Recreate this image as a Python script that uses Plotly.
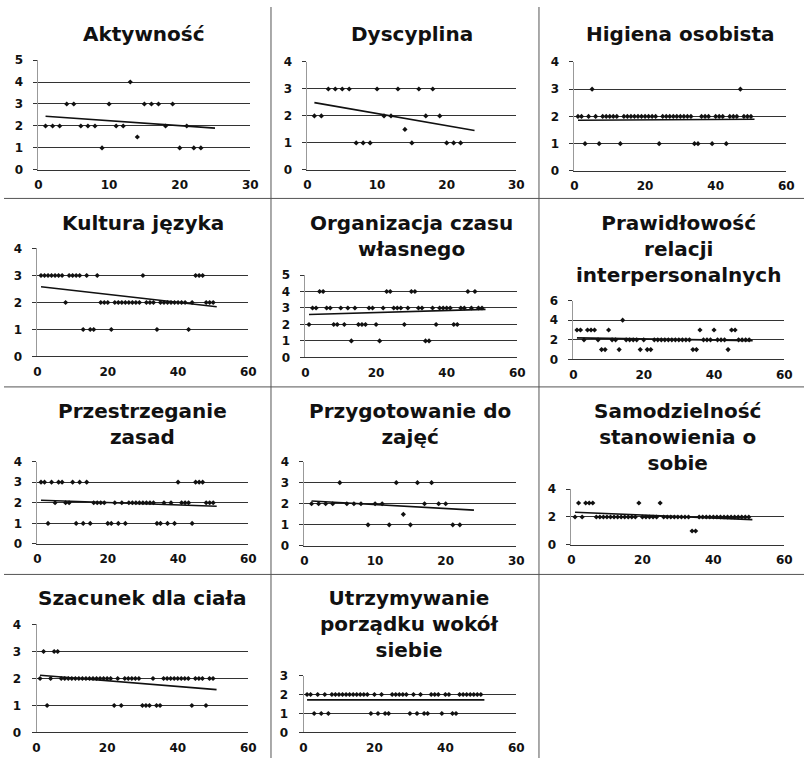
import numpy as np
import plotly.graph_objects as go

# ---- data: one score per pupil (x = pupil number, y = score) ----
titles = [
    "Aktywność",
    "Dyscyplina",
    "Higiena osobista",
    "Kultura języka",
    "Organizacja czasu<br>własnego",
    "Prawidłowość<br>relacji<br>interpersonalnych",
    "Przestrzeganie<br>zasad",
    "Przygotowanie do<br>zajęć",
    "Samodzielność<br>stanowienia o<br>sobie",
    "Szacunek dla ciała",
    "Utrzymywanie<br>porządku wokół<br>siebie",
]

x_short23 = [1, 2, 3, 4, 5, 6, 7, 8, 9, 10, 11, 12, 13, 14, 15, 16, 17, 18, 19, 20, 21, 22, 23]
x_short22 = [1, 2, 3, 4, 5, 6, 7, 8, 9, 10, 11, 12, 13, 14, 15, 16, 17, 18, 19, 20, 21, 22]
x_long50 = [1, 2, 3, 4, 5, 6, 7, 8, 9, 10,
            11, 12, 13, 14, 15, 16, 17, 18, 19, 20,
            21, 22, 23, 24, 25, 26, 27, 28, 29, 30,
            31, 32, 33, 34, 35, 36, 37, 38, 39, 40,
            41, 42, 43, 44, 45, 46, 47, 48, 49, 50]

aktywnosc = [2, 2, 2, 3, 3, 2, 2, 2, 1, 3, 2, 2, 4, 1.5, 3, 3, 3, 2, 3, 1, 2, 1, 1]
dyscyplina = [2, 2, 3, 3, 3, 3, 1, 1, 1, 3, 2, 2, 3, 1.5, 1, 3, 2, 3, 2, 1, 1, 1]
higiena = [2, 2, 1, 2, 3, 2, 1, 2, 2, 2,
           2, 2, 1, 2, 2, 2, 2, 2, 2, 2,
           2, 2, 2, 1, 2, 2, 2, 2, 2, 2,
           2, 2, 2, 1, 1, 2, 2, 2, 1, 2,
           2, 2, 1, 2, 2, 2, 3, 2, 2, 2]
kultura = [3, 3, 3, 3, 3, 3, 3, 2, 3, 3,
           3, 3, 1, 3, 1, 1, 3, 2, 2, 2,
           1, 2, 2, 2, 2, 2, 2, 2, 2, 3,
           2, 2, 2, 1, 2, 2, 2, 2, 2, 2,
           2, 2, 1, 2, 3, 3, 3, 2, 2, 2]
organizacja = [2, 3, 3, 4, 4, 3, 3, 2, 2, 3,
               2, 3, 1, 3, 2, 2, 2, 3, 3, 2,
               1, 3, 4, 4, 3, 3, 3, 2, 3, 4,
               4, 3, 3, 1, 1, 3, 2, 3, 3, 3,
               3, 2, 2, 3, 3, 4, 3, 4, 3, 3]
relacje = [3, 3, 2, 3, 3, 3, 2, 1, 1, 3,
           2, 2, 1, 4, 2, 2, 2, 2, 1, 2,
           1, 1, 2, 2, 2, 2, 2, 2, 2, 2,
           2, 2, 2, 1, 1, 3, 2, 2, 2, 3,
           2, 2, 2, 1, 3, 3, 2, 2, 2, 2]
zasady = [3, 3, 1, 3, 2, 3, 3, 2, 2, 3,
          1, 3, 1, 3, 1, 2, 2, 2, 2, 1,
          1, 2, 1, 2, 1, 2, 2, 2, 2, 2,
          2, 2, 2, 1, 1, 2, 1, 2, 1, 3,
          2, 2, 2, 1, 3, 3, 3, 2, 2, 2]
przygotowanie = [2, 2, 2, 2, 3, 2, 2, 2, 1, 2, 2, 1, 3, 1.5, 1, 3, 2, 3, 2, 2, 1, 1]
samodzielnosc = [2, 3, 2, 3, 3, 3, 2, 2, 2, 2,
                 2, 2, 2, 2, 2, 2, 2, 2, 3, 2,
                 2, 2, 2, 2, 3, 2, 2, 2, 2, 2,
                 2, 2, 2, 1, 1, 2, 2, 2, 2, 2,
                 2, 2, 2, 2, 2, 2, 2, 2, 2, 2]
szacunek = [2, 3, 1, 2, 3, 3, 2, 2, 2, 2,
            2, 2, 2, 2, 2, 2, 2, 2, 2, 2,
            2, 1, 2, 1, 2, 2, 2, 2, 2, 1,
            1, 1, 2, 1, 1, 2, 2, 2, 2, 2,
            2, 2, 2, 1, 2, 2, 2, 1, 2, 2]
porzadek = [2, 2, 1, 2, 1, 2, 1, 2, 2, 2,
            2, 2, 2, 2, 2, 2, 2, 2, 1, 2,
            1, 2, 1, 1, 2, 2, 2, 2, 2, 1,
            2, 1, 2, 1, 1, 2, 2, 2, 1, 2,
            2, 1, 1, 2, 2, 2, 2, 2, 2, 2]

series_x = [x_short23, x_short22, x_long50, x_long50, x_long50, x_long50,
            x_long50, x_short22, x_long50, x_long50, x_long50]
series_y = [aktywnosc, dyscyplina, higiena, kultura, organizacja, relacje,
            zasady, przygotowanie, samodzielnosc, szacunek, porzadek]

# axis scales
x_max = [30, 30, 60, 60, 60, 60, 60, 30, 60, 60, 60]
x_step = [10, 10, 20, 20, 20, 20, 20, 10, 20, 20, 20]
y_max = [5, 4, 4, 4, 5, 6, 4, 4, 4, 4, 3]
y_step = [1, 1, 1, 1, 1, 2, 1, 1, 2, 1, 1]
# x-extent of the linear trend line
trend_to = [25, 24, 51, 51, 51, 51, 51, 24, 51, 51, 51]

# ---- layout geometry (pixels) ----
W, H = 812, 765
boxes = [  # left, right, top, bottom of each plot area
    (35, 250, 54, 166), (308, 520, 56, 166), (579, 794, 56, 167),
    (34, 248, 246, 356), (306, 521, 273, 357), (578, 792, 299, 359),
    (34, 248, 463, 547), (305, 520, 463, 549), (576, 792, 491, 548),
    (33, 248, 629, 739), (304, 520, 681, 739),
]
row_title_top = [13, 13, 13, 206, 206, 206, 397, 397, 397, 588, 588]

FONT = "DejaVu Sans"

fig = go.Figure()
layout = dict(
    width=W, height=H,
    margin=dict(l=0, r=0, t=0, b=0),
    paper_bgcolor="white", plot_bgcolor="white",
    showlegend=False,
    annotations=[], shapes=[],
)

for i in range(len(titles)):
    n = i + 1
    xa = "x" if n == 1 else f"x{n}"
    ya = "y" if n == 1 else f"y{n}"
    xs = np.array(series_x[i], dtype=float)
    ys = np.array(series_y[i], dtype=float)

    fig.add_trace(go.Scatter(
        x=xs, y=ys, mode="markers", xaxis=xa, yaxis=ya,
        marker=dict(symbol="diamond", size=4, color="#111"),
        cliponaxis=False,
    ))

    slope, intercept = np.polyfit(xs, ys, 1)
    tx = np.array([xs.min(), trend_to[i]])
    fig.add_trace(go.Scatter(
        x=tx, y=slope * tx + intercept, mode="lines", xaxis=xa, yaxis=ya,
        line=dict(color="#111", width=1.6),
    ))

    l, r, t, b = boxes[i]
    xkey = "xaxis" if n == 1 else f"xaxis{n}"
    ykey = "yaxis" if n == 1 else f"yaxis{n}"
    layout[xkey] = dict(
        domain=[l / W, r / W], anchor=ya, range=[0, x_max[i]],
        dtick=x_step[i], tick0=0, showgrid=False, zeroline=False,
        showline=True, linecolor="#333", linewidth=1, ticks="",
        tickfont=dict(family=FONT, size=12, color="#111", weight="bold"),
        ticklabelstandoff=4, fixedrange=True,
    )
    layout[ykey] = dict(
        domain=[1 - b / H, 1 - t / H], anchor=xa, range=[0, y_max[i]],
        dtick=y_step[i], tick0=0, showgrid=True, gridcolor="#333",
        gridwidth=1, zeroline=False, showline=True, linecolor="#999",
        linewidth=1, ticks="outside", ticklen=4, tickcolor="#333",
        tickfont=dict(family=FONT, size=12, color="#111", weight="bold"),
        ticklabelstandoff=8, fixedrange=True,
    )
    layout["annotations"].append(dict(
        text=titles[i], xref="paper", yref="paper",
        x=(l + r) / 2 / W, y=1 - row_title_top[i] / H,
        xanchor="center", yanchor="top", showarrow=False, align="center",
        font=dict(family=FONT, size=20, color="#111", weight="bold"),
    ))

# cell separators
for px in (271, 543):
    layout["shapes"].append(dict(type="line", xref="paper", yref="paper",
                                 x0=px / W, x1=px / W, y0=0, y1=1,
                                 line=dict(color="#555", width=1)))
for py in (195, 387, 578):
    layout["shapes"].append(dict(type="line", xref="paper", yref="paper",
                                 x0=0, x1=1, y0=1 - py / H, y1=1 - py / H,
                                 line=dict(color="#555", width=1)))

fig.update_layout(**layout)
fig.write_html("out.html")
